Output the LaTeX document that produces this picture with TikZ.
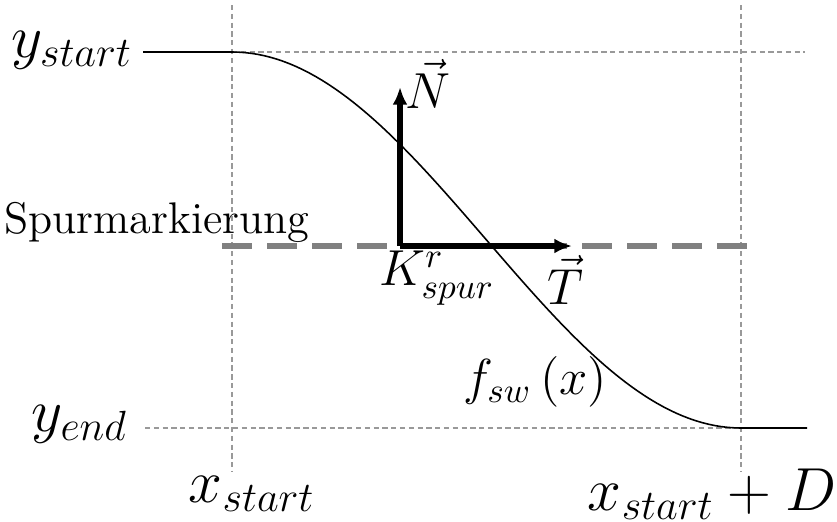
\documentclass[tikz,border=0pt]{standalone}
\usepackage{xcolor}
\usepackage{tikz}
\usetikzlibrary{arrows.meta, positioning}

\begin{document}
\begin{tikzpicture}[x=0.01cm, y=-0.01cm,
        helper/.style={gray!80, line width=0.35pt, dash pattern=on 1.5pt off 1.0pt},
        marking/.style={gray, line width=1.6pt, dash pattern=on 8.5pt off 4.3pt},
        vec/.style={line width=1.5pt, -{Latex[length=5pt, width=4.2pt]}},
        mlbl/.style={font=\LARGE},
        vlbl/.style={font=\Large}]
        \useasboundingbox (0,0) rectangle (837,521);

        % frame points
        \coordinate (xs top) at (232,5);
        \coordinate (xs bot) at (232,472);
        \coordinate (xe top) at (741,5);
        \coordinate (xe bot) at (741,472);
        \coordinate (ys l) at (143,52);
        \coordinate (ys r) at (805,52);
        \coordinate (ye l) at (145,428);
        \coordinate (ye r) at (807,428);
        \coordinate (mark l) at (222,246);
        \coordinate (mark r) at (752,246);
        \coordinate (K) at (400,246);
        \coordinate (N) at (400,87);
        \coordinate (T) at (572,246);

        % helper lines
        \draw[helper] (xs top) -- (xs bot);
        \draw[helper] (xe top) -- (xe bot);
        \draw[helper] (xs top |- ys l) -- (ys r);
        \draw[helper] (ye l) -- (xe top |- ye l);

        % lane marking
        \draw[marking] (mark l) -- (mark r);

        % lane change curve
        \draw[line width=0.45pt] (ys l) -- (xs top |- ys l)
            -- plot[domain=0:1, samples=80] ({232+509*\x},{52+376*(1-cos(180*\x))/2})
            -- (ye r);

        % tangent and normal
        \draw[vec] (K) -- (N);
        \draw[vec] (K) -- (T);

        % labels
        \node[mlbl, anchor=east] (ystart) at (145,50) {$y_{start}$};
        \node[mlbl, anchor=east] (yend) at (140,424) {$y_{end}$};
        \node[font=\fontsize{12.6}{15}\selectfont, anchor=west] (spur) at (-8,222) {Spurmarkierung};
        \node[mlbl] (xstart) at (252,494) {$x_{start}$};
        \node[mlbl] (xend) at (712,494) {$x_{start}+D$};
        \node[vlbl] (Nlbl) at (428,84) {$\vec{N}$};
        \node[vlbl] (Tlbl) at (565,280) {$\vec{T}$};
        \node[vlbl] (Klbl) at (437,278) {$K_{spur}^{r}$};
        \node[font=\Large] (flbl) at (535,382) {$f_{sw}\left(x\right)$};
\end{tikzpicture}
\end{document}
